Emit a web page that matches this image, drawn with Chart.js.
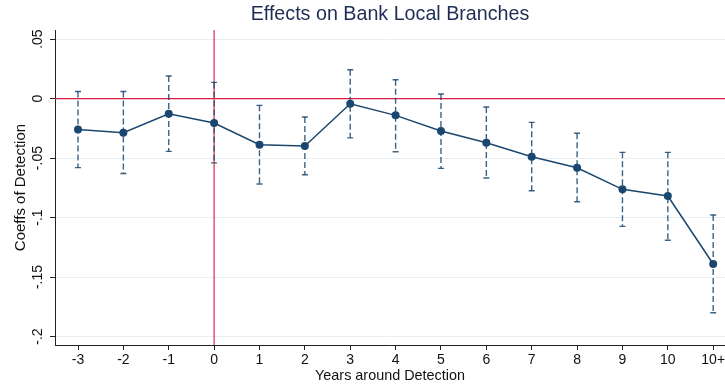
<!DOCTYPE html>
<html>
<head>
<meta charset="utf-8">
<script src="https://cdn.jsdelivr.net/npm/chart.js@4"></script>
<style>
  html, body { margin: 0; padding: 0; background: #fff; overflow: hidden; }
  #wrap { width: 725px; height: 385px; position: relative; }
</style>
</head>
<body>
<div id="wrap"><canvas id="c"></canvas></div>
<script>
const categories = ['-3','-2','-1','0','1','2','3','4','5','6','7','8','9','10','10+'];
const coef  = [-0.026, -0.0287, -0.0128, -0.0206, -0.0388, -0.0399, -0.0044, -0.0141, -0.0273, -0.0371, -0.0489, -0.0581, -0.0763, -0.0819, -0.139];
const upper = [0.006, 0.006, 0.019, 0.0136, -0.0057, -0.0155, 0.0242, 0.0158, 0.0038, -0.0071, -0.020, -0.0292, -0.0452, -0.0452, -0.0979];
const lower = [-0.058, -0.063, -0.0444, -0.054, -0.0718, -0.064, -0.033, -0.0447, -0.0587, -0.0668, -0.0775, -0.0867, -0.1074, -0.1191, -0.180];
const yTicks = [-0.2, -0.15, -0.1, -0.05, 0, 0.05];
const yTickLabels = ['-.2', '-.15', '-.1', '-.05', '0', '.05'];
const eventCategory = '0';

const FONT = "'Liberation Sans', Arial, sans-serif";
const NAVY = '#1a476f';

const refLines = {
  id: 'refLines',
  beforeDatasetsDraw(chart) {
    const {ctx, chartArea, scales} = chart;
    const x0 = scales.x.getPixelForValue(categories.indexOf(eventCategory));
    const y0 = scales.y.getPixelForValue(0);
    ctx.save();
    ctx.lineWidth = 1.3;
    ctx.strokeStyle = '#d81b45';
    ctx.beginPath();
    ctx.moveTo(chartArea.left, y0);
    ctx.lineTo(chartArea.right, y0);
    ctx.stroke();
    ctx.strokeStyle = '#e0395f';
    ctx.beginPath();
    ctx.moveTo(x0, chartArea.top);
    ctx.lineTo(x0, chartArea.bottom);
    ctx.stroke();
    // error bars
    ctx.strokeStyle = 'rgba(26,71,111,0.85)';
    ctx.lineWidth = 1.4;
    for (let i = 0; i < categories.length; i++) {
      const px = scales.x.getPixelForValue(i);
      const pu = scales.y.getPixelForValue(upper[i]);
      const pl = scales.y.getPixelForValue(lower[i]);
      ctx.setLineDash([6, 3]);
      ctx.beginPath();
      ctx.moveTo(px, pu);
      ctx.lineTo(px, pl);
      ctx.stroke();
      ctx.setLineDash([]);
      ctx.beginPath();
      ctx.moveTo(px - 3, pu); ctx.lineTo(px + 3, pu);
      ctx.moveTo(px - 3, pl); ctx.lineTo(px + 3, pl);
      ctx.stroke();
    }
    ctx.restore();
  }
};

new Chart(document.getElementById('c'), {
  type: 'line',
  data: {
    datasets: [{
      data: coef.map((v, i) => ({x: i, y: v})),
      borderColor: NAVY,
      backgroundColor: NAVY,
      borderWidth: 1.5,
      pointRadius: 4,
      pointBorderWidth: 0,
      pointBackgroundColor: NAVY,
      tension: 0,
      clip: false
    }]
  },
  options: {
    responsive: true,
    maintainAspectRatio: false,
    devicePixelRatio: 1,
    animation: false,
    layout: { padding: 0, autoPadding: false },
    plugins: {
      legend: { display: false },
      tooltip: { enabled: false },
      title: {
        display: true,
        fullSize: false,
        text: 'Effects on Bank Local Branches',
        color: '#1e2d53',
        font: { family: FONT, size: 19.7, weight: 'normal' },
        padding: { top: 3, bottom: 3.4 }
      }
    },
    scales: {
      x: {
        type: 'linear',
        min: -0.507,
        max: 14.26,
        afterBuildTicks(scale) { scale.ticks = categories.map((c, i) => ({value: i})); },
        afterFit(scale) { scale.height = 40; scale.paddingLeft = 0; scale.paddingRight = 0; },
        ticks: {
          autoSkip: false,
          maxRotation: 0,
          color: '#111',
          padding: 2,
          font: { family: FONT, size: 14 },
          callback: (v) => categories[v]
        },
        grid: { display: true, drawOnChartArea: false, drawTicks: true, tickLength: 5, tickColor: '#222', color: '#222' },
        border: { display: true, color: '#222', width: 1 },
        title: {
          display: true,
          text: 'Years around Detection',
          color: '#111',
          font: { family: FONT, size: 14.4 },
          padding: { top: 0, bottom: 0.5 }
        }
      },
      y: {
        min: -0.2071,
        max: 0.0576,
        afterBuildTicks(scale) { scale.ticks = yTicks.map(v => ({value: v})); },
        afterFit(scale) { scale.width = 55; },
        ticks: {
          minRotation: 90,
          maxRotation: 90,
          crossAlign: 'center',
          padding: 0,
          color: '#111',
          font: { family: FONT, size: 14 },
          callback: (v) => { const k = yTicks.findIndex(t => Math.abs(t - v) < 1e-9); return k >= 0 ? yTickLabels[k] : ''; }
        },
        grid: { color: '#e8eff2', lineWidth: 1, drawTicks: true, tickLength: 5, tickColor: '#222' },
        border: { display: true, color: '#222', width: 1 },
        title: {
          display: true,
          text: 'Coeffs of Detection',
          color: '#111',
          font: { family: FONT, size: 15 },
          padding: { top: 12, bottom: 0 }
        }
      }
    }
  },
  plugins: [refLines]
});
</script>
</body>
</html>
